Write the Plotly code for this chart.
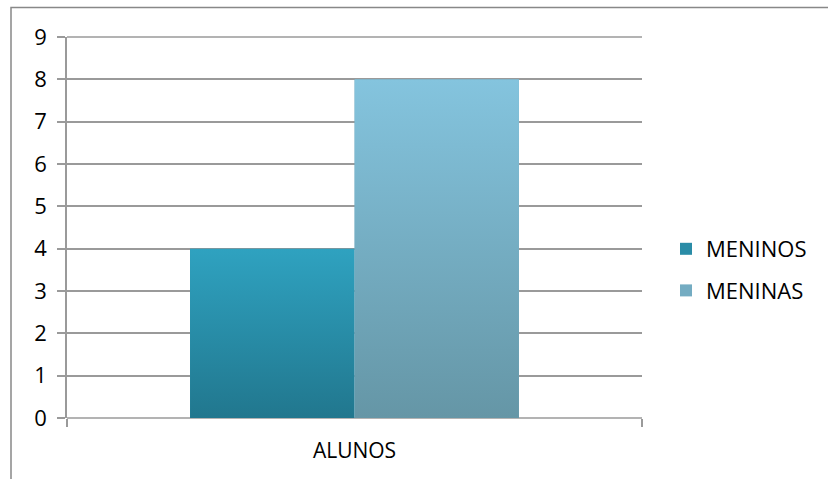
import base64
import plotly.graph_objects as go

# Data
categories = ["ALUNOS"]
series_names = ["MENINOS", "MENINAS"]
meninos = [4]
meninas = [8]
y_ticks = list(range(0, 10))

# Styling
top_colors = ["#2fa2c0", "#84c4de"]
bottom_colors = ["#21778e", "#6596a6"]
mid_colors = ["#2a8ca7", "#74acc2"]
font_family = "Open Sans"
bargap = 0.428
grid_color = "#9a9a9a"


def gradient_uri(top, bottom):
    svg = (
        '<svg xmlns="http://www.w3.org/2000/svg" width="10" height="100" '
        'viewBox="0 0 10 100" preserveAspectRatio="none">'
        '<defs><linearGradient id="g" x1="0" y1="0" x2="0" y2="1">'
        f'<stop offset="0" stop-color="{top}"/>'
        f'<stop offset="1" stop-color="{bottom}"/>'
        '</linearGradient></defs>'
        '<rect width="10" height="100" fill="url(#g)"/></svg>'
    )
    return "data:image/svg+xml;base64," + base64.b64encode(svg.encode()).decode()


fig = go.Figure()
values = [meninos, meninas]
for name, vals, col in zip(series_names, values, mid_colors):
    fig.add_trace(go.Bar(
        x=categories, y=vals, name=name, legendgroup=name,
        marker=dict(color=col, line=dict(width=0)),
    ))

# Gradient fill laid over each bar, placed from the bar's own value
n = len(series_names)
bar_w = (1 - bargap) / n
images = []
for i, vals in enumerate(values):
    for ci, v in enumerate(vals):
        x0 = ci - (1 - bargap) / 2 + i * bar_w
        images.append(dict(
            source=gradient_uri(top_colors[i], bottom_colors[i]),
            xref="x", yref="y", x=x0, y=v, sizex=bar_w, sizey=v,
            xanchor="left", yanchor="top", sizing="stretch", layer="above",
        ))

W, H = 828, 479
L, R, T, B = 67, 186, 37, 61
pw = W - L - R
ph = H - T - B

fig.update_layout(
    width=W, height=H,
    margin=dict(l=L, r=R, t=T, b=B, pad=0),
    paper_bgcolor="white", plot_bgcolor="white",
    barmode="group", bargap=bargap, bargroupgap=0,
    font=dict(family=font_family, size=21, color="#000000"),
    images=images,
    showlegend=True,
    legend=dict(
        x=(666 - L) / pw, xanchor="left",
        y=(H - B - 270) / ph, yanchor="middle",
        traceorder="grouped", tracegroupgap=10,
        font=dict(family=font_family, size=22, color="#000000"),
        bgcolor="rgba(0,0,0,0)",
    ),
    xaxis=dict(
        type="category", range=[-0.5, 0.5],
        showgrid=False, showline=False, zeroline=False,
        ticks="outside", tickson="boundaries", ticklen=8, tickwidth=1.5,
        tickcolor=grid_color, ticklabelstandoff=18,
        tickfont=dict(size=21),
    ),
    yaxis=dict(
        range=[0, 9], tickvals=y_ticks,
        showgrid=True, gridcolor=grid_color, gridwidth=1.5,
        showline=True, linecolor=grid_color, linewidth=1.5,
        zeroline=False,
        ticks="outside", ticklen=8, tickwidth=1.5, tickcolor=grid_color,
        ticklabelstandoff=6,
        tickfont=dict(size=22),
    ),
    shapes=[
        # baseline and top gridline along the plot edges
        dict(type="line", xref="paper", yref="paper", x0=0, x1=1, y0=0, y1=0,
             line=dict(color=grid_color, width=1.5), layer="between"),
        dict(type="line", xref="paper", yref="paper", x0=0, x1=1, y0=1, y1=1,
             line=dict(color=grid_color, width=1.5), layer="above"),
        # chart frame
        dict(type="rect", xref="paper", yref="paper",
             x0=(11 - L) / pw, x1=2, y0=-1, y1=(H - B - 7.5) / ph,
             line=dict(color="#888888", width=1.5), layer="below"),
    ],
)

fig.write_html("out.html")
